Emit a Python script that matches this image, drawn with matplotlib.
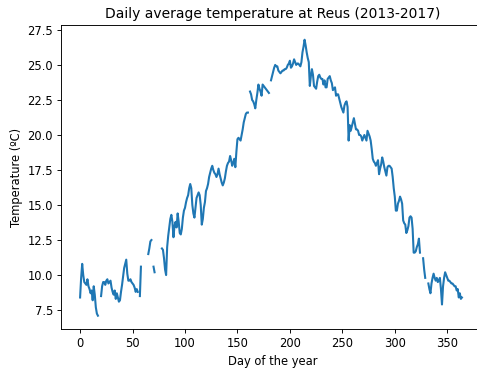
import matplotlib
matplotlib.use("Agg")
import matplotlib.pyplot as plt
import numpy as np

nan = np.nan

# mean temperature per day of the year
temps = [
    8.4, 9.8, 10.8, 10.0, 9.5, 9.4, 9.3, 9.7, 9.2, 9.0,          # 0
    8.7, 8.9, 8.2, 9.2, 8.6, 7.7, 7.25, 7.1, nan, nan,           # 10
    8.5, 9.2, 9.5, 9.5, 9.3, 9.6, 9.7, 9.4, 9.5, 9.6,            # 20
    9.1, 8.8, 8.6, 8.9, 8.3, 8.7, 8.4, 8.1, 8.2, 8.8,            # 30
    9.3, 9.9, 10.5, 10.8, 11.1, 10.1, 9.6, 9.6, 9.7, 9.5,        # 40
    9.4, 9.3, 9.1, 8.8, 9.0, 8.8, nan, 8.5, 10.6, nan,           # 50
    nan, nan, nan, nan, nan, 11.5, 11.9, 12.4, 12.5, nan,        # 60
    10.6, 10.2, nan, nan, nan, nan, nan, nan, 11.9, 11.8,        # 70
    11.2, 10.4, 10.0, 12.0, 12.8, 13.4, 14.0, 14.3, 13.8, 12.7,  # 80
    13.5, 13.8, 13.4, 14.4, 13.8, 13.0, 12.9, 13.3, 14.1, 14.6,  # 90
    14.8, 15.2, 15.5, 15.7, 16.2, 16.5, 16.2, 15.0, 14.4, 14.1,  # 100
    14.8, 15.5, 15.7, 15.9, 15.7, 15.0, 13.6, 14.0, 14.8, 15.2,  # 110
    16.0, 16.2, 16.5, 17.0, 17.3, 17.6, 17.8, 17.5, 17.3, 17.2,  # 120
    17.0, 17.2, 17.6, 17.2, 16.9, 16.6, 16.4, 16.6, 16.9, 17.4,  # 130
    17.8, 18.0, 18.1, 18.5, 18.2, 17.8, 18.0, 18.3, 17.7, 18.8,  # 140
    19.7, 19.8, 19.7, 19.6, 20.0, 20.4, 20.9, 21.2, 21.5, 21.6,  # 150
    21.6, nan, 23.1, 22.9, 22.5, 22.4, 22.2, 21.9, 22.5, 23.0,   # 160
    23.6, 23.3, 23.1, 22.8, 23.6, 23.5, 23.4, 23.3, 23.2, 23.1,  # 170
    23.0, nan, 23.9, 24.2, 24.5, 24.8, 25.0, 24.9, 24.9, 24.6,   # 180
    24.5, 24.4, 24.5, 24.6, 24.6, 24.7, 24.7, 24.8, 25.0, 25.1,  # 190
    25.3, 24.8, 24.9, 25.1, 25.4, 25.2, 25.0, 25.1, 25.1, 25.0,  # 200
    24.9, 25.2, 25.9, 26.3, 26.8, 26.4, 25.9, 25.5, 25.2, 23.5,  # 210
    24.2, 24.7, 24.3, 23.5, 23.4, 23.3, 23.8, 24.2, 24.3, 24.1,  # 220
    24.0, 24.0, 23.6, 23.9, 23.4, 23.4, 24.0, 24.1, 24.2, 23.9,  # 230
    23.7, 23.2, 23.3, 23.4, 22.8, 22.9, 22.9, 22.6, 22.3, 22.0,  # 240
    21.8, 21.6, 22.1, 22.3, 22.4, 22.0, 19.6, 20.7, 20.3, 20.6,  # 250
    20.9, 21.2, 20.8, 20.4, 20.4, 20.3, 20.0, 20.0, 19.9, 19.6,  # 260
    19.8, 20.0, 19.8, 19.6, 20.3, 20.1, 19.9, 19.6, 19.0, 18.3,  # 270
    18.1, 18.0, 17.8, 18.0, 18.2, 17.2, 17.6, 17.9, 18.4, 18.1,  # 280
    17.7, 17.4, 17.1, 17.7, 17.8, 17.8, 17.7, 17.6, 17.0, 16.2,  # 290
    15.6, 14.6, 14.6, 15.1, 15.3, 15.6, 15.4, 15.1, 13.9, 13.7,  # 300
    13.6, 13.0, 13.2, 13.5, 14.1, 14.2, 14.1, 13.3, 11.6, 11.6,  # 310
    11.7, 12.0, 12.2, 12.6, 11.6, nan, nan, 11.2, 10.4, 9.8,     # 320
    nan, nan, 9.4, 9.0, 8.7, 9.4, 9.8, 10.1, 9.8, 9.6,           # 330
    9.8, 9.5, 9.6, 9.8, 9.0, 7.9, 9.2, 9.8, 10.2, 10.0,          # 340
    9.8, 9.6, 9.6, 9.5, 9.4, 9.4, 9.3, 9.2, 9.2, 8.9,            # 350
    9.0, 8.4, 8.7, 8.3, 8.4,                                     # 360
]
days = np.arange(len(temps))

DPI = 83
fig = plt.figure(figsize=(477 / DPI, 370 / DPI), dpi=DPI)
# the original is cut off on the right, so the axes run past the edge
ax = fig.add_axes([61 / 477, 1 - 329 / 370, 424 / 477, 304 / 370])

ax.plot(days, temps, linewidth=1.8)
ax.set_xlim(-18.2, 386.0)
ax.set_ylim(6.15, 27.85)
ax.set_title("Daily average temperature at Reus (2013-2017)")
ax.set_xlabel("Day of the year")
ax.set_ylabel("Temperature (ºC)")

fig.savefig("out.png", dpi=DPI)
